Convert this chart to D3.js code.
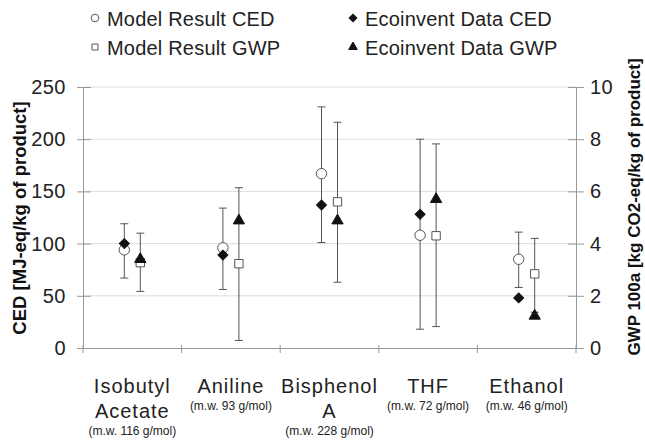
<!DOCTYPE html>
<html><head><meta charset="utf-8">
<script src="https://cdn.jsdelivr.net/npm/d3@7"></script>
<style>body{margin:0;background:#fff}svg{display:block;font-family:"Liberation Sans",Arial,sans-serif}</style>
</head><body><svg id="c" width="645" height="440"></svg>
<script>
const categories = ["Isobutyl Acetate","Aniline","Bisphenol A","THF","Ethanol"];
const nameLines = [["Isobutyl","Acetate"],["Aniline"],["Bisphenol","A"],["THF"],["Ethanol"]];
const mwLabels = ["(m.w. 116 g/mol)","(m.w. 93 g/mol)","(m.w. 228 g/mol)","(m.w. 72 g/mol)","(m.w. 46 g/mol)"];
// CED [MJ-eq/kg]
const modelCED = [94, 96, 167, 108, 85];
const modelCEDLow = [67, 56, 101, 18, 58];
const modelCEDHigh = [119, 134, 231, 200, 111];
const ecoCED = [100, 89, 137, 128, 48];
// GWP [kg CO2-eq/kg]
const modelGWP = [3.27, 3.23, 5.6, 4.3, 2.84];
const modelGWPLow = [2.17, 0.29, 2.52, 0.82, 1.37];
const modelGWPHigh = [4.4, 6.14, 8.65, 7.82, 4.2];
const ecoGWP = [3.4, 4.88, 4.88, 5.7, 1.23];
const cedTicks = [0, 50, 100, 150, 200, 250];
const gwpTicks = [0, 2, 4, 6, 8, 10];

const svg = d3.select("#c");
const L = 83, R = 576, T = 87, B = 348;
const FF = '"Liberation Sans",Arial,sans-serif';
const x = d3.scaleBand().domain(categories).range([L, R]);
const yC = d3.scaleLinear().domain([0, 250]).range([B, T]);
const yG = d3.scaleLinear().domain([0, 10]).range([B, T]);
const off = 8;
const axisCol = "#999", gridCol = "#ddd";

// gridlines
svg.append("g").selectAll("line").data(cedTicks.filter(d => d > 0)).join("line")
  .attr("x1", L).attr("x2", R).attr("y1", d => yC(d)).attr("y2", d => yC(d))
  .attr("stroke", gridCol).attr("stroke-width", 1);

// axes (ticks cross the axis line)
const gl = svg.append("g").attr("transform", `translate(${L},0)`)
  .call(d3.axisLeft(yC).tickValues(cedTicks).tickSize(6).tickPadding(11));
const gr = svg.append("g").attr("transform", `translate(${R},0)`)
  .call(d3.axisRight(yG).tickValues(gwpTicks).tickSize(8).tickPadding(6));
gl.selectAll(".tick line").attr("x2", -6).attr("x1", 8);
gr.selectAll(".tick line").attr("x1", -8).attr("x2", 8);
const gb = svg.append("g").attr("transform", `translate(0,${B})`)
  .call(d3.axisBottom(x).tickSize(0).tickFormat(""));
[gl, gr, gb].forEach(g => {
  g.select(".domain").attr("stroke", axisCol);
  g.selectAll(".tick line").attr("stroke", axisCol);
  g.selectAll("text").attr("font-size", 20).attr("fill", "#222")
    .attr("font-family", FF).attr("letter-spacing", "0.5px");
});
// category boundary ticks
const bounds = categories.map(c => x(c)).concat([R]);
svg.append("g").selectAll("line").data(bounds).join("line")
  .attr("x1", d => d).attr("x2", d => d).attr("y1", B - 3).attr("y2", B + 5)
  .attr("stroke", axisCol);

// category labels
const lab = svg.append("g").attr("text-anchor", "middle").attr("fill", "#222");
categories.forEach((c, i) => {
  const cx = x(c) + x.bandwidth() / 2;
  nameLines[i].forEach((t, j) => {
    lab.append("text").attr("x", cx).attr("y", 393 + j * 25).attr("font-size", 20)
      .attr("letter-spacing", "1px").text(t);
  });
  lab.append("text").attr("x", cx).attr("y", 393 + (nameLines[i].length - 1) * 25 + 17)
    .attr("font-size", 12).text(mwLabels[i]);
});

// error bars
function errBars(lo, hi, scale, dx) {
  const g = svg.append("g").attr("stroke", "#555").attr("stroke-width", 1);
  categories.forEach((c, i) => {
    const cx = x(c) + x.bandwidth() / 2 + dx;
    g.append("line").attr("x1", cx).attr("x2", cx).attr("y1", scale(lo[i])).attr("y2", scale(hi[i]));
    [lo[i], hi[i]].forEach(v => g.append("line").attr("x1", cx - 4).attr("x2", cx + 4)
      .attr("y1", scale(v)).attr("y2", scale(v)));
  });
}
errBars(modelCEDLow, modelCEDHigh, yC, -off);
errBars(modelGWPLow, modelGWPHigh, yG, off);

function points(vals, scale, dx, type, size, fill, stroke, rot) {
  svg.append("g").selectAll("path").data(vals).join("path")
    .attr("d", d3.symbol().type(type).size(size))
    .attr("transform", (d, i) => `translate(${x(categories[i]) + x.bandwidth() / 2 + dx},${scale(d)}) rotate(${rot || 0})`)
    .attr("fill", fill).attr("stroke", stroke).attr("stroke-width", 1);
}
points(modelCED, yC, -off, d3.symbolCircle, 85, "#fff", "#555");
points(modelGWP, yG, off, d3.symbolSquare, 70, "#fff", "#555");
points(ecoCED, yC, -off, d3.symbolSquare, 50, "#111", "#111", 45);
points(ecoGWP, yG, off, d3.symbolTriangle, 55, "#111", "#111");

// axis titles
svg.append("text").attr("transform", `translate(26,218) rotate(-90)`).attr("text-anchor", "middle")
  .attr("font-size", 18.5).attr("font-weight", "bold").attr("fill", "#111").text("CED [MJ-eq/kg of product]");
svg.append("text").attr("transform", `translate(640,207) rotate(-90)`).attr("text-anchor", "middle")
  .attr("font-size", 17).attr("font-weight", "bold").attr("fill", "#111").text("GWP 100a [kg CO2-eq/kg of product]");

// legend
const legendItems = [
  {label: "Model Result CED", type: d3.symbolCircle, fill: "#fff", stroke: "#555", x: 95, y: 18, size: 45, rot: 0},
  {label: "Model Result GWP", type: d3.symbolSquare, fill: "#fff", stroke: "#555", x: 95, y: 47, size: 36, rot: 0},
  {label: "Ecoinvent Data CED", type: d3.symbolSquare, fill: "#111", stroke: "#111", x: 353, y: 18, size: 30, rot: 45},
  {label: "Ecoinvent Data GWP", type: d3.symbolTriangle, fill: "#111", stroke: "#111", x: 353, y: 47, size: 32, rot: 0}
];
const lg = svg.append("g");
legendItems.forEach(it => {
  lg.append("path").attr("d", d3.symbol().type(it.type).size(it.size))
    .attr("transform", `translate(${it.x},${it.y}) rotate(${it.rot})`).attr("fill", it.fill).attr("stroke", it.stroke);
  lg.append("text").attr("x", it.x + 12).attr("y", it.y + 8).attr("font-size", 20)
    .attr("letter-spacing", "0.2px").attr("fill", "#222").text(it.label);
});
</script></body></html>
